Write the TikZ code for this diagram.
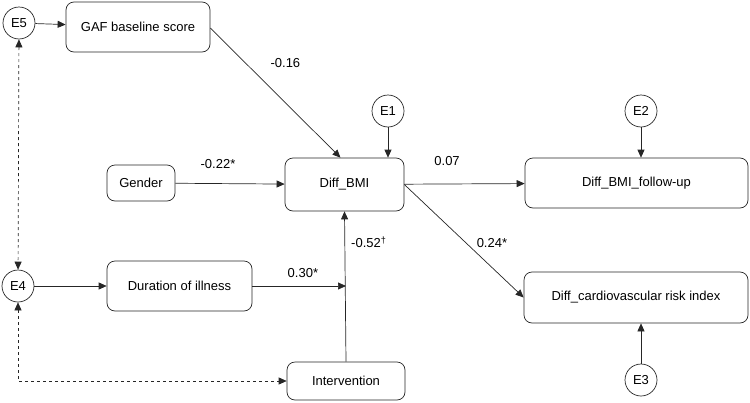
\documentclass[tikz,border=0pt]{standalone}
\usepackage{fontspec}
\setmainfont{Liberation Sans}
\usetikzlibrary{arrows.meta}
\begin{document}
\begin{tikzpicture}[x=1pt,y=-1pt,
  font=\fontsize{13}{15}\selectfont,
  lin/.style={draw=black!85, line width=0.7pt},
  var/.style={lin, rounded corners=8pt, inner sep=0pt, align=center},
  err/.style={lin, circle, minimum size=32pt, inner sep=0pt},
  arr/.style={lin, -{Triangle[length=8pt,width=7pt]}},
  darr/.style={lin, dashed, {Triangle[length=8pt,width=7pt]}-{Triangle[length=8pt,width=7pt]}},
  lab/.style={inner sep=1pt, anchor=center}]
\useasboundingbox (0,0) rectangle (750,402);
% nodes
\node[err] (e5) at (19,23) {E5};
\node[var, minimum width=144pt, minimum height=50pt] (gaf) at (138,27) {GAF baseline score};
\node[err] (e4) at (18,286) {E4};
\node[var, minimum width=145pt, minimum height=50pt] (dur) at (179.5,286) {Duration of illness};
\node[var, minimum width=68pt, minimum height=36pt] (gen) at (141,183) {Gender};
\node[var, minimum width=119pt, minimum height=53pt] (dbmi) at (344.5,184.5) {Diff\_BMI};
\node[var, minimum width=118pt, minimum height=38pt] (int) at (346,381) {Intervention};
\node[err] (e1) at (388,111) {E1};
\node[var, minimum width=223pt, minimum height=50pt] (fu) at (636.5,183) {Diff\_BMI\_follow-up};
\node[err] (e2) at (641,111) {E2};
\node[var, minimum width=224pt, minimum height=51pt] (cv) at (636,297.5) {Diff\_cardiovascular risk index};
\node[err] (e3) at (641,380) {E3};
\coordinate (j) at (int.north |- dur.east);
% connectors
\draw[arr] (e5) -- (gaf);
\draw[arr] (e4) -- (dur);
\draw[arr] ([yshift=-1pt]gaf.east) -- ([xshift=-4pt]dbmi.north) node[lab, pos=0.3, xshift=36pt, yshift=4pt] {-0.16};
\draw[arr] (gen) -- (dbmi) node[lab, pos=0.39, yshift=20pt] {-0.22*};
\draw[arr] (dur) -- (j) node[lab, pos=0.54, yshift=13pt] {0.30*};
\draw[arr] (int.north) -- (dbmi.south) node[lab, pos=0.795, xshift=24pt] {-0.52\textsuperscript{†}};
\draw[arr] (e1) -- (e1 |- dbmi.north);
\draw[arr] (dbmi) -- (fu) node[lab, pos=0.355, yshift=23pt] {0.07};
\draw[arr] (dbmi.east) -- (cv.west) node[lab, pos=0.6, xshift=16pt, yshift=9pt] {0.24*};
\draw[arr] (e2) -- (e2 |- fu.north);
\draw[arr] (e3) -- (e3 |- cv.south);
\draw[darr] (e5) -- (e4);
\draw[darr] (e4.south) |- (int.west);
\end{tikzpicture}
\end{document}
